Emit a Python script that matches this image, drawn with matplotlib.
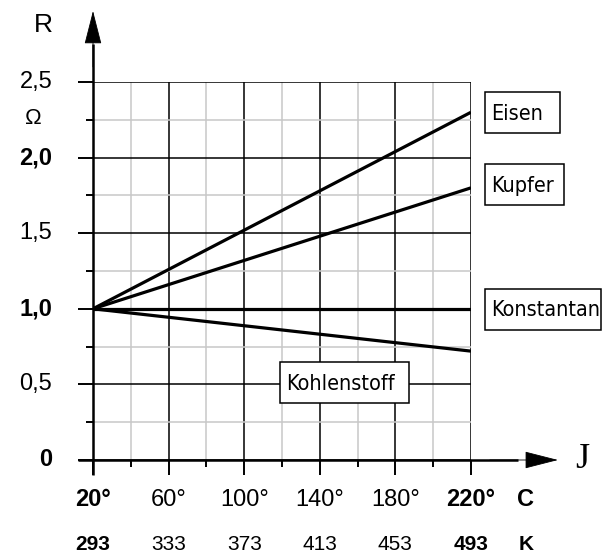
import matplotlib
matplotlib.use("Agg")
import matplotlib.pyplot as plt
from matplotlib import font_manager as fm
from matplotlib.patches import Rectangle
from matplotlib.transforms import blended_transform_factory

# ---- data ----
temp_c = [20, 220]
eisen = [1.0, 2.3]
kupfer = [1.0, 1.8]
konstantan = [1.0, 1.0]
kohlenstoff = [1.0, 0.72]

xticks_c = [20, 60, 100, 140, 180, 220]
xlabels_c = ["20°", "60°", "100°", "140°", "180°", "220°"]
xlabels_k = ["293", "333", "373", "413", "453", "493"]
xbold = [True, False, False, False, False, True]
yticks = [0, 0.5, 1.0, 1.5, 2.0, 2.5]
ylabels = ["0", "0,5", "1,0", "1,5", "2,0", "2,5"]
ybold = [True, False, True, False, True, False]


def pick(cands):
    for c in cands:
        try:
            fm.findfont(fm.FontProperties(family=c), fallback_to_default=False)
            return c
        except Exception:
            continue
    return "DejaVu Sans"


SANS = pick(["Liberation Sans", "Arimo", "Arial", "Helvetica",
             "Nimbus Sans", "Roboto", "Noto Sans"])
SERIF = pick(["Liberation Serif", "Tinos", "Times New Roman", "DejaVu Serif"])
sans = [SANS, "DejaVu Sans"]

W, H = 602, 557
fig = plt.figure(figsize=(W / 100, H / 100), dpi=100)

def fx(px):
    return px / W

def fy(py):
    return 1 - py / H

ax = fig.add_axes([fx(93), fy(460), fx(471) - fx(93), fy(82) - fy(460)])
ax.set_xlim(20, 220)
ax.set_ylim(0, 2.5)
for s in ax.spines.values():
    s.set_visible(False)

ax.set_xticks(xticks_c)
ax.set_xticks([40, 80, 120, 160, 200], minor=True)
ax.set_yticks(yticks)
ax.set_yticks([0.25, 0.75, 1.25, 1.75, 2.25], minor=True)
ax.tick_params(which="major", length=10.8, width=1.4, color="black",
               labelbottom=False, labelleft=False)
ax.tick_params(which="minor", length=5, width=1.4, color="black")
ax.grid(which="minor", color="#c8c8c8", lw=1.1)
ax.grid(which="major", color="black", lw=1.1)
ax.set_axisbelow(True)

# axes with arrows
lw_ax = 1.8
ax.plot([20, 20], [-0.1, 2.75], color="black", lw=lw_ax, clip_on=False,
        solid_capstyle="butt")
ax.plot([12, 245], [0, 0], color="black", lw=lw_ax, clip_on=False,
        solid_capstyle="butt")
astyle = "-|>,head_length=1.45,head_width=0.37"
ax.annotate("", xy=(20, 2.97), xytext=(20, 2.6), xycoords="data",
            arrowprops=dict(arrowstyle=astyle, mutation_scale=15,
                            color="black", lw=0.6, shrinkA=0, shrinkB=0),
            annotation_clip=False)
ax.annotate("", xy=(266, 0), xytext=(230, 0), xycoords="data",
            arrowprops=dict(arrowstyle=astyle, mutation_scale=15,
                            color="black", lw=0.6, shrinkA=0, shrinkB=0),
            annotation_clip=False)

# data lines
for series in (eisen, kupfer, konstantan, kohlenstoff):
    ax.plot(temp_c, series, color="black", lw=2.3, solid_capstyle="butt",
            zorder=5)

# y tick labels
for v, lab, b in zip(yticks, ylabels, ybold):
    ax.text(-0.108, v, lab, transform=ax.get_yaxis_transform(), ha="right",
            va="center", fontsize=17, family=sans,
            fontweight="bold" if b else "normal")
fig.text(fx(33), fy(119), "Ω", ha="center", va="center", fontsize=16,
         family=sans)
fig.text(fx(43), fy(25), "R", ha="center", va="center", fontsize=19,
         family=sans)

# x tick labels
tr = blended_transform_factory(ax.transData, fig.transFigure)
for v, lc, lk, b in zip(xticks_c, xlabels_c, xlabels_k, xbold):
    w = "bold" if b else "normal"
    ax.text(v, fy(500), lc, transform=tr, ha="center", va="center",
            fontsize=17, family=sans, fontweight=w)
    ax.text(v, fy(545), lk, transform=tr, ha="center", va="center",
            fontsize=15, family=sans, fontweight=w)
fig.text(fx(526), fy(500), "C", ha="center", va="center", fontsize=17,
         family=sans, fontweight="bold")
fig.text(fx(526), fy(545), "K", ha="center", va="center", fontsize=15,
         family=sans, fontweight="bold")
fig.text(fx(582), fy(459), "J", ha="center", va="center", fontsize=26,
         family=[SERIF, "DejaVu Serif"])

# labelled boxes (pixel boxes: x0, y0, x1, y1)
boxes = [
    ("Eisen", 485, 92, 560, 133),
    ("Kupfer", 485, 164, 564, 205),
    ("Konstantan", 485, 289, 601, 330),
    ("Kohlenstoff", 280, 362, 409, 403),
]
for txt, x0, y0, x1, y1 in boxes:
    r = Rectangle((fx(x0), fy(y1)), fx(x1) - fx(x0), fy(y0) - fy(y1),
                  transform=fig.transFigure, fc="white", ec="black", lw=1.1,
                  zorder=10)
    fig.add_artist(r)
    fig.text(fx(x0 + 6), fy((y0 + y1) / 2 + 1), txt, ha="left", va="center",
             fontsize=15.5, family=["DejaVu Sans"], fontstretch="condensed",
             zorder=11)

fig.savefig("out.png", dpi=100)
